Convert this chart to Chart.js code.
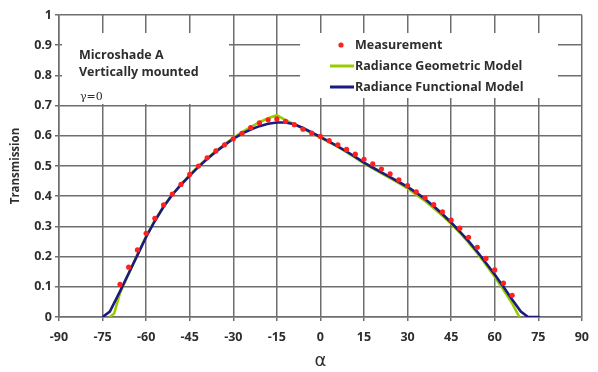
<!DOCTYPE html>
<html>
<head>
<meta charset="utf-8">
<script src="https://cdn.jsdelivr.net/npm/chart.js@4.4.1/dist/chart.umd.min.js"></script>
<style>
  html, body { margin: 0; padding: 0; background: #fff; }
</style>
</head>
<body>
<canvas id="grafico" width="598" height="372"></canvas>
<script>
// Medições (a cada 3 graus)
const anguloMedicao = [-69, -66, -63, -60, -57, -54, -51, -48, -45, -42, -39, -36, -33, -30, -27, -24, -21, -18, -15, -12, -9, -6, -3,
  0, 3, 6, 9, 12, 15, 18, 21, 24, 27, 30, 33, 36, 39, 42, 45, 48, 51, 54, 57, 60, 63, 66];
const transMedicao = [0.108, 0.165, 0.222, 0.277, 0.327, 0.371, 0.407, 0.439, 0.472, 0.500, 0.527, 0.550, 0.570, 0.590, 0.608, 0.627, 0.643, 0.653, 0.656, 0.648, 0.637, 0.622, 0.609,
  0.598, 0.584, 0.570, 0.555, 0.539, 0.522, 0.507, 0.490, 0.474, 0.454, 0.435, 0.414, 0.395, 0.372, 0.348, 0.321, 0.294, 0.264, 0.231, 0.194, 0.156, 0.112, 0.072];

// Modelo geométrico (verde)
const anguloGeometrico = [-72.5, -71, -69, -66, -63, -60, -57, -54, -51, -48, -45, -42, -39, -36, -33, -30, -27, -24, -21, -18, -15, -12, -9, -6, -3,
  0, 3, 6, 9, 12, 15, 18, 21, 24, 27, 30, 33, 36, 39, 42, 45, 48, 51, 54, 57, 60, 63, 66, 68.5];
const transGeometrico = [0, 0.012, 0.080, 0.143, 0.206, 0.268, 0.320, 0.366, 0.405, 0.438, 0.470, 0.499, 0.526, 0.550, 0.572, 0.593, 0.612, 0.629, 0.645, 0.658, 0.668, 0.652, 0.638, 0.624, 0.609,
  0.594, 0.579, 0.563, 0.546, 0.528, 0.509, 0.492, 0.476, 0.460, 0.443, 0.426, 0.405, 0.384, 0.360, 0.335, 0.309, 0.279, 0.246, 0.211, 0.173, 0.133, 0.090, 0.045, 0];

// Modelo funcional (azul)
const anguloFuncional = [-75, -72.5, -69, -66, -63, -60, -57, -54, -51, -48, -45, -42, -39, -36, -33, -30, -27, -24, -21, -18, -15, -12, -9, -6, -3,
  0, 3, 6, 9, 12, 15, 18, 21, 24, 27, 30, 33, 36, 39, 42, 45, 48, 51, 54, 57, 60, 63, 66, 69, 71.5, 75.5];
const transFuncional = [0, 0.018, 0.085, 0.145, 0.205, 0.265, 0.318, 0.365, 0.405, 0.438, 0.468, 0.497, 0.523, 0.547, 0.569, 0.590, 0.607, 0.621, 0.632, 0.640, 0.644, 0.644, 0.638, 0.626, 0.611,
  0.596, 0.581, 0.565, 0.548, 0.530, 0.511, 0.495, 0.479, 0.463, 0.447, 0.431, 0.412, 0.391, 0.367, 0.341, 0.313, 0.283, 0.251, 0.216, 0.179, 0.141, 0.100, 0.058, 0.018, 0, 0];

const ticksX = [-90, -75, -60, -45, -30, -15, 0, 15, 30, 45, 60, 75, 90];
const ticksY = [0, 0.1, 0.2, 0.3, 0.4, 0.5, 0.6, 0.7, 0.8, 0.9, 1];

const legendas = ["Measurement", "Radiance Geometric Model", "Radiance Functional Model"];
const anotacoes = ["Microshade A", "Vertically mounted", "γ=0"];

const corGrade = "#6e6e6e";
const corTexto = "#2e2e2e";
const fonteTexto = "'Open Sans', 'Noto Sans', sans-serif";

const pontos = (xs, ys) => xs.map((x, i) => ({ x: x, y: ys[i] }));

// Caixas brancas, textos e legenda desenhados sobre a grade
const caixas = {
    id: "caixas",
    beforeDatasetsDraw: (chart) => {
        const c = chart.ctx;
        c.save();
        c.fillStyle = "#ffffff";
        c.fillRect(62, 33, 167, 71);
        c.fillRect(300, 33, 258, 65);
        c.restore();
    },
    afterDatasetsDraw: (chart) => {
        const c = chart.ctx;
        c.save();
        c.fillStyle = corTexto;
        c.textBaseline = "middle";
        c.textAlign = "left";
        c.font = "bold 12.5px " + fonteTexto;
        c.fillText(anotacoes[0], 79, 55);
        c.fillText(anotacoes[1], 79, 72);
        c.font = "11px 'DejaVu Serif', serif";
        c.fillText(anotacoes[2], 80, 97);

        // legenda
        c.fillStyle = "#ff2020";
        c.beginPath();
        c.arc(341, 45, 2.6, 0, Math.PI * 2);
        c.fill();
        c.lineWidth = 3;
        c.strokeStyle = "#99cc00";
        c.beginPath(); c.moveTo(330, 66); c.lineTo(354, 66); c.stroke();
        c.strokeStyle = "#1b1b7e";
        c.beginPath(); c.moveTo(330, 87); c.lineTo(354, 87); c.stroke();
        c.fillStyle = corTexto;
        c.font = "bold 12.5px " + fonteTexto;
        c.fillText(legendas[0], 355, 45);
        c.fillText(legendas[1], 355, 66);
        c.fillText(legendas[2], 355, 87);
        c.restore();
    }
};

new Chart(document.getElementById("grafico"), {
    type: "scatter",
    data: {
        datasets: [{
            label: legendas[0],
            data: pontos(anguloMedicao, transMedicao),
            showLine: false,
            pointRadius: 2.6,
            pointBorderWidth: 0,
            pointBackgroundColor: "#ff2020",
            order: 0
        }, {
            label: legendas[2],
            data: pontos(anguloFuncional, transFuncional),
            showLine: true,
            borderColor: "#1b1b7e",
            borderWidth: 2.6,
            pointRadius: 0,
            order: 1
        }, {
            label: legendas[1],
            data: pontos(anguloGeometrico, transGeometrico),
            showLine: true,
            borderColor: "#99cc00",
            borderWidth: 2.6,
            pointRadius: 0,
            order: 2
        }]
    },
    options: {
        responsive: false,
        animation: false,
        layout: { padding: { top: 15, right: 8, left: 0, bottom: 0 } },
        plugins: { legend: { display: false }, tooltip: { enabled: false } },
        scales: {
            x: {
                type: "linear",
                min: -90,
                max: 90,
                afterBuildTicks: (s) => { s.ticks = ticksX.map((v) => ({ value: v })); },
                afterFit: (s) => { s.height = 55; },
                ticks: {
                    color: corTexto,
                    padding: 9,
                    maxRotation: 0,
                    font: { family: fonteTexto, size: 12.5, weight: "bold" },
                    callback: (v) => String(v)
                },
                grid: { color: corGrade, lineWidth: 1.5, tickLength: 4 },
                border: { color: corGrade, width: 1.5 },
                title: {
                    display: true,
                    text: "α",
                    color: corTexto,
                    padding: 0,
                    font: { family: "'DejaVu Sans', sans-serif", size: 18 }
                }
            },
            y: {
                type: "linear",
                min: 0,
                max: 1,
                afterBuildTicks: (s) => { s.ticks = ticksY.map((v) => ({ value: v })); },
                afterFit: (s) => { s.width = 59; },
                ticks: {
                    color: corTexto,
                    padding: 3,
                    font: { family: fonteTexto, size: 12.5, weight: "bold" },
                    callback: (v) => String(+v.toFixed(1))
                },
                grid: { color: corGrade, lineWidth: 1.5, tickLength: 4 },
                border: { color: corGrade, width: 1.5 },
                title: {
                    display: true,
                    text: "Transmission",
                    color: corTexto,
                    padding: { top: 9, bottom: 0 },
                    font: { family: fonteTexto, size: 11.5, weight: "bold" }
                }
            }
        }
    },
    plugins: [caixas]
});
</script>
</body>
</html>
